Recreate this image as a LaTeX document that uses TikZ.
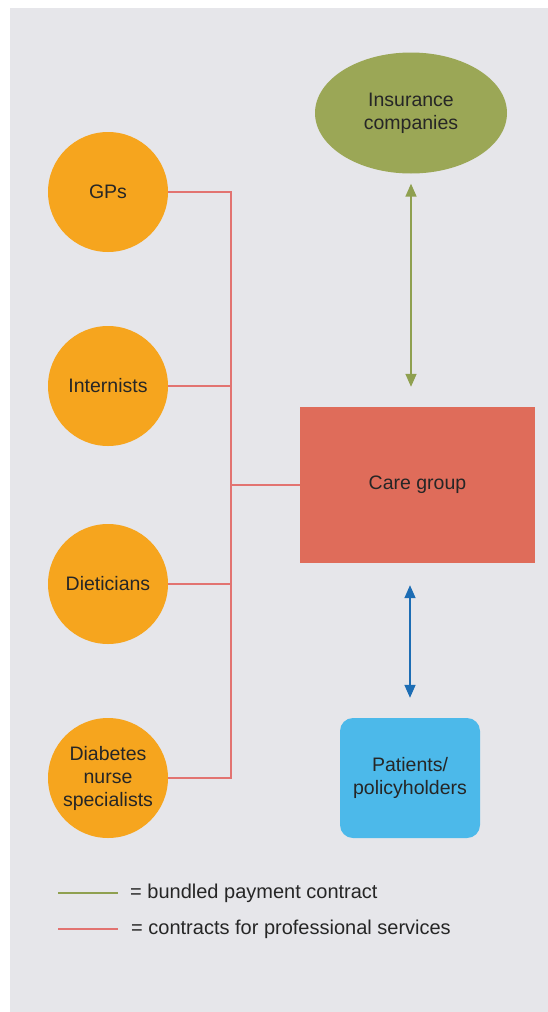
\documentclass[tikz,border=0pt]{standalone}
\usepackage{fontspec}
\setmainfont{Liberation Sans}
\usetikzlibrary{arrows.meta,shapes.geometric}

\definecolor{panel}{HTML}{E6E6EA}
\definecolor{provider}{HTML}{F6A51E}
\definecolor{insurer}{HTML}{9BA756}
\definecolor{caregrp}{HTML}{DF6C5A}
\definecolor{patient}{HTML}{4CB9EA}
\definecolor{proline}{HTML}{E27371}
\definecolor{payline}{HTML}{8FA050}
\definecolor{patline}{HTML}{1D6DB4}
\definecolor{ink}{HTML}{262626}

\tikzset{
  lbl/.style={font=\fontsize{19.5}{23}\selectfont, text=ink, align=center},
  provider/.style={lbl, circle, fill=provider, minimum size=120pt, inner sep=0pt},
  insurer/.style={lbl, ellipse, fill=insurer, minimum width=192pt, minimum height=121pt, inner sep=0pt},
  caregrp/.style={lbl, rectangle, fill=caregrp, minimum width=235pt, minimum height=156pt},
  patient/.style={lbl, rectangle, rounded corners=13pt, fill=patient, minimum width=140pt, minimum height=120pt},
  proline/.style={draw=proline, line width=1.8pt},
  payline/.style={draw=payline, line width=1.6pt},
  patline/.style={draw=patline, line width=1.6pt},
  twoway/.style={>={Triangle[length=13pt,width=11pt]}, <->},
  legtext/.style={font=\fontsize{20}{23}\selectfont, text=ink, anchor=west, inner sep=0pt}
}

\begin{document}
\begin{tikzpicture}[x=1pt,y=-1pt]
  \useasboundingbox (0,0) rectangle (548,1012);
  \fill[panel] (10,8) rectangle (548,1012);

  % providers on the left
  \node[provider] (gps) at (108,192) {GPs};
  \node[provider] (int) at (108,386) {Internists};
  \node[provider] (die) at (108,584) {Dieticians};
  \node[provider] (dia) at (108,778) {Diabetes\\nurse\\specialists};

  % organisations on the right
  \node[insurer] (ins) at (411,113) {Insurance\\companies};
  \node[caregrp] (care) at (417.5,485) {Care group};
  \node[patient] (pat) at (410,778) {Patients/\\policyholders};

  % professional services contracts: bus from each provider to the care group
  \coordinate (bus) at (231,0);
  \draw[proline] (gps.east) -- (gps.east -| bus) -- (dia.east -| bus) -- (dia.east);
  \draw[proline] (int.east) -- (int.east -| bus);
  \draw[proline] (die.east) -- (die.east -| bus);
  \draw[proline] (care.west -| bus) -- (care.west);

  % bundled payment contract and patient relation
  \draw[payline, twoway] ([yshift=-10pt]ins.south) -- ([yshift=20pt]ins.south |- care.north);
  \draw[patline, twoway] ([yshift=-22pt]pat.north |- care.south) -- ([yshift=20pt]pat.north);

  % legend
  \coordinate (g0) at (58,893);
  \coordinate (g1) at (118,893);
  \coordinate (r0) at (58,929);
  \coordinate (r1) at (118,929);
  \draw[payline, line width=1.5pt] (g0) -- (g1);
  \draw[proline, line width=1.5pt] (r0) -- (r1);
  \node[legtext] (lg) at (130,893) {= bundled payment contract};
  \node[legtext] (lr) at (131,929) {= contracts for professional services};
\end{tikzpicture}
\end{document}
